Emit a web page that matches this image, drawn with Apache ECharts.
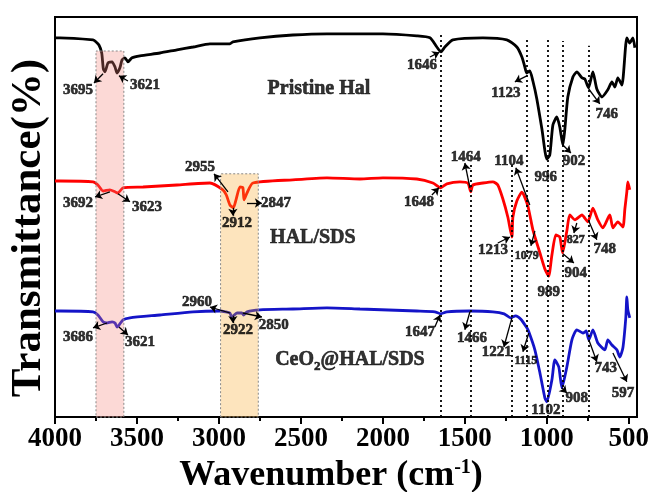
<!DOCTYPE html>
<html>
<head>
<meta charset="UTF-8">
<title>FTIR</title>
<script type="text/javascript" src="https://cdn.jsdelivr.net/npm/echarts@6/dist/echarts.min.js"></script>
<style>
	html,body{margin:0;padding:0;background:#fff;}
	#main{width:649px;height:492px;}
</style>
</head>
<body>
<div id="main"></div>
<script type="text/javascript">
	// wavenumber (cm-1), transmittance (arb. %)
	var pristineHal = [[4000,94.8],[3970,94.8],[3768,94.3],[3756,94],[3732,93],[3715,91],[3705,87],[3695,86.3],[3677,88.5],[3652,88.8],[3634,87.5],[3622,86],[3604,87.3],[3591,89.3],[3573,89.8],[3555,88.8],[3530,89.8],[3482,90.3],[3360,91],[3256,91.8],[3158,92.5],[3055,93.3],[2933,93.3],[2915,93.8],[2750,94.8],[2549,95.5],[2341,95.8],[2183,95.8],[2000,95.8],[1793,95.3],[1713,94.8],[1671,92.5],[1646,91.3],[1622,92.5],[1573,94.3],[1390,94.8],[1244,94.3],[1183,92.5],[1152,90],[1134,87.5],[1123,86],[1104,86.5],[1085,84],[1061,79.5],[1030,72],[1000,64.5],[982,65.5],[963,73],[939,75],[921,72.5],[902,68],[890,72],[872,80],[841,85],[817,86.3],[786,84.8],[768,84.5],[746,82.3],[719,86.3],[695,82],[664,80],[628,81.8],[603,83.8],[585,82.5],[567,84.8],[542,83],[512,94.8],[494,93.5],[475,94.8],[463,92.3]];
	var halSds = [[4000,59],[3970,59],[3768,58.8],[3738,58],[3707,56.5],[3665,56.8],[3634,56.3],[3616,56],[3585,57.3],[3463,57.5],[3256,58],[3055,58.5],[2976,56.8],[2955,55.5],[2933,53],[2912,52.3],[2896,54.3],[2872,57.5],[2854,57.3],[2847,54.3],[2829,56],[2793,58.5],[2549,59.3],[2341,59.8],[2140,59.5],[2000,59.8],[1793,59.5],[1695,58.5],[1648,57.3],[1610,58.3],[1530,58.8],[1482,58.5],[1464,56.3],[1451,58],[1390,58.5],[1329,58.8],[1299,58],[1268,54.5],[1238,50],[1213,45],[1207,50],[1183,54],[1152,56.2],[1116,52.8],[1085,46.8],[1042,41],[1012,37],[989,35.2],[969,40.5],[945,45.5],[921,45],[904,41],[878,46.5],[860,50.5],[829,49.3],[786,50.5],[750,48.8],[719,52.2],[689,49.3],[658,47.3],[616,50.5],[597,47.3],[567,48.8],[536,47.5],[524,52],[512,56.3],[506,58.8],[494,56.8]];
	var ceo2HalSds = [[4000,26.5],[3970,26.5],[3768,26.3],[3738,25.5],[3707,23.8],[3686,23.5],[3652,23.8],[3634,23.5],[3621,22.5],[3585,24.3],[3543,24.8],[3360,25.5],[3158,26.3],[2994,26.5],[2960,26.3],[2933,26],[2922,25],[2890,26],[2860,26],[2850,25.5],[2829,26.3],[2750,26.8],[2549,27],[2341,27.3],[2140,27],[1793,26.5],[1683,26.3],[1647,25.8],[1610,26.3],[1469,26.5],[1329,26.3],[1260,25.8],[1221,24.8],[1190,25.3],[1160,24.5],[1122,22.3],[1110,21.3],[1073,16.8],[1042,11],[1012,4.8],[1000,3.8],[969,9.3],[951,14.3],[927,12.5],[908,7.3],[878,12.5],[847,19.3],[817,21.8],[780,21],[760,21.5],[744,19.3],[719,21.8],[689,18.5],[646,16.8],[628,19.3],[603,18],[573,16.8],[555,15],[536,17.3],[518,25],[512,30],[506,26.8],[494,24.8]];

	var xMajor = [4000,3500,3000,2500,2000,1500,1000,500];
	var xMinor = [3750,3250,2750,2250,1750,1250,750];

	// highlighted bands: [fromWn, toWn, topT, colour]
	var bands = [[3750,3580,91.5,'rgba(245,130,120,0.3)'],[2990,2760,60.8,'rgba(248,165,38,0.3)']];
	// dotted guide lines: [wn, topT]
	var guides = [[1646,95.8],[1464,63.8],[1213,63],[1123,94.5],[996,94.5],[902,94],[746,92.8]];

	// peak notes: [text, labelWn, labelT, tailWn, tailT, headWn, headT, small]
	var peakNotes = [
		['3695',3860,81.8, 3707,85.8, 3762,83.5],
		['3621',3451,83, 3555,84, 3610,85.3],
		['1646',1762,88, 1713,90, 1655,91.2],
		['1123',1250,81, 1122,85.3, 1195,83.8],
		['996',1006,60],
		['902',835,64, 902,68, 853,66],
		['746',634,75.8, 744,82, 677,78.3],
		['3692',3860,53.5, 3665,56.3, 3756,55],
		['3623',3439,52.5, 3616,55.8, 3543,53.8],
		['2955',3116,62.5, 2945,56.3, 3030,60.8],
		['2912',2890,48.5, 2915,52.3, 2915,50.3],
		['2847',2652,53.5, 2829,53.5, 2738,53.5],
		['1648',1780,53.8, 1701,55.5, 1658,57.3],
		['1464',1494,65, 1469,57.3, 1500,63.5],
		['1104',1232,64, 1104,53, 1189,62.3],
		['1213',1329,41.8, 1299,43.5, 1225,45],
		['1079',1122,40.3, 1073,46.5, 1097,42.8, true],
		['989',988,31.3],
		['904',823,36, 902,40.8, 835,38.5],
		['827',823,44.3, 817,48.5, 835,46, true],
		['748',646,42, 744,49, 695,44.3],
		['3686',3860,20, 3683,23.5, 3768,22.3],
		['3621',3482,18.8, 3610,22.5, 3555,20.5],
		['2960',3134,28.8, 2933,26, 3055,27.5],
		['2922',2884,21.8, 2915,25.3, 2915,23.5],
		['2850',2665,23, 2854,26, 2738,25],
		['1647',1774,21.3, 1683,22.5, 1652,25.5],
		['1466',1457,19.8, 1469,26.3, 1500,21.8],
		['1221',1305,16.3, 1213,24.8, 1262,17.5],
		['1115',1128,14, 1110,21, 1146,16.3, true],
		['1102',1006,1.8],
		['908',817,4.8, 909,7.3, 878,6],
		['743',640,12.3, 744,19.3, 695,13.8],
		['597',536,6, 597,16, 512,8.8]
	];
	// sample names: [text, wn, T]
	var sampleNames = [
		['Pristine Hal',2390,82],
		['HAL/SDS',2427,44.8],
		['{a|CeO}{s|2}{a|@HAL/SDS}',2201,14.3]
	];

	var serif = "'Liberation Serif','Times New Roman',serif";
	var myChart = echarts.init(document.getElementById('main'));

	var noteData = [], arrowData = [];
	for (var i = 0; i < peakNotes.length; i++) {
		var n = peakNotes[i];
		noteData.push({name:n[0], value:[n[1],n[2]], label:{fontSize: n[7] ? 12 : 15}});
		if (n.length > 3) {
			arrowData.push([{coord:[n[3],n[4]]},{coord:[n[5],n[6]]}]);
		}
	}
	var nameData = sampleNames.map(function (s){
		return {name:s[0], value:[s[1],s[2]]};
	});
	var guideData = guides.map(function (g){
		return [{coord:[g[0],0]},{coord:[g[0],g[1]]}];
	});
	var bandData = bands.map(function (b){
		return [{coord:[b[0],0], itemStyle:{color:b[3]}},{coord:[b[1],b[2]]}];
	});

	var option = {
		animation:false,
		grid:{left:55,right:12,top:17,bottom:75,containLabel:false,outerBoundsMode:'none',
			show:true,borderColor:'#000',borderWidth:2,backgroundColor:'transparent'},
		xAxis:[{
			type:'value',min:450,max:4000,inverse:true,position:'bottom',
			splitLine:{show:false},
			axisLine:{show:true,lineStyle:{color:'#000',width:2}},
			axisTick:{show:true,customValues:xMajor,length:7,inside:false,lineStyle:{color:'#000',width:2}},
			axisLabel:{customValues:xMajor,color:'#000',fontFamily:serif,fontWeight:'bold',fontSize:27,margin:9,
				hideOverlap:false,showMinLabel:true,showMaxLabel:true,
				formatter:function (v){ return String(v); }},
			name:'{b|Wavenumber (cm}{s|-1}{b|)}',nameLocation:'middle',nameGap:31,
			nameTextStyle:{padding:[0,30,0,0],rich:{
				b:{fontFamily:serif,fontWeight:'bold',fontSize:36,color:'#000'},
				s:{fontFamily:serif,fontWeight:'bold',fontSize:20,color:'#000',verticalAlign:'top',padding:[0,0,14,0]}
			}}
		},{
			type:'value',min:450,max:4000,inverse:true,position:'bottom',gridIndex:0,
			splitLine:{show:false},axisLine:{show:false},axisLabel:{show:false},
			axisTick:{show:true,customValues:xMinor,length:4,lineStyle:{color:'#000',width:2}}
		}],
		yAxis:{
			type:'value',min:0,max:100,
			splitLine:{show:false},axisTick:{show:false},axisLabel:{show:false},
			axisLine:{show:true,lineStyle:{color:'#000',width:2}},
			name:'Transmittance(%)',nameLocation:'middle',nameGap:5,
			nameTextStyle:{fontFamily:serif,fontWeight:'bold',fontSize:43,color:'#000',padding:[0,22,0,0]}
		},
		series:[{
			name:'Pristine Hal',type:'line',data:pristineHal,showSymbol:false,smooth:0.2,
			lineStyle:{color:'#000',width:2.8},z:2
		},{
			name:'HAL/SDS',type:'line',data:halSds,showSymbol:false,smooth:0.2,
			lineStyle:{color:'#ff0000',width:2.8},z:2
		},{
			name:'CeO2@HAL/SDS',type:'line',data:ceo2HalSds,showSymbol:false,smooth:0.2,
			lineStyle:{color:'#1414c8',width:2.8},z:2
		},{
			name:'guides',type:'line',data:[],z:4,
			markLine:{silent:true,symbol:['none','none'],label:{show:false},
				lineStyle:{color:'#000',width:1.8,type:[2,3]},data:guideData},
			markArea:{silent:true,z:10,
				itemStyle:{borderColor:'#888',borderWidth:1,borderType:[2,2]},data:bandData}
		},{
			name:'notes',type:'scatter',data:noteData,symbolSize:1,z:12,
			itemStyle:{color:'rgba(0,0,0,0)'},
			label:{show:true,position:'inside',formatter:'{b}',color:'#000',textBorderColor:'#000',textBorderWidth:0.6,
				fontFamily:serif,fontWeight:'bold',fontSize:15},
			markLine:{silent:true,z:12,symbol:['none','arrow'],symbolSize:7,label:{show:false},
				lineStyle:{color:'#000',width:1.3,type:'solid'},data:arrowData}
		},{
			name:'names',type:'scatter',data:nameData,symbolSize:1,z:12,
			itemStyle:{color:'rgba(0,0,0,0)'},
			label:{show:true,position:'inside',formatter:'{b}',color:'#000',textBorderColor:'#000',textBorderWidth:0.6,
				fontFamily:serif,fontWeight:'bold',fontSize:20,
				rich:{
					a:{fontFamily:serif,fontWeight:'bold',fontSize:20,color:'#000',lineHeight:26,textBorderColor:'#000',textBorderWidth:0.6},
					s:{fontFamily:serif,fontWeight:'bold',fontSize:13,color:'#000',verticalAlign:'bottom',lineHeight:13,textBorderColor:'#000',textBorderWidth:0.6}
				}}
		}]
	};
	myChart.setOption(option);
</script>
</body>
</html>
